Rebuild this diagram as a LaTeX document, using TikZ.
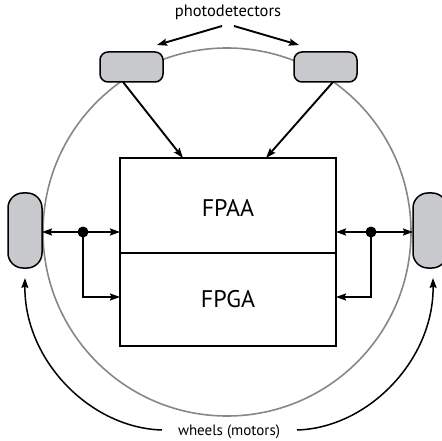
\documentclass[tikz,border=0pt]{standalone}
\usepackage{fontspec}
\setmainfont{PT Sans}
\usetikzlibrary{arrows.meta}
\definecolor{partfill}{RGB}{200,201,204}
\definecolor{rimgray}{RGB}{135,135,135}
\tikzset{
  sensor/.style={draw=black, line width=1.5pt, fill=partfill, rounded corners=8pt},
  wheel/.style={draw=black, line width=1.5pt, fill=partfill, rounded corners=15pt},
  chip/.style={draw=black, line width=1.3pt},
  link/.style={draw=black, line width=1.9pt},
  tip/.style={-{Stealth[length=10pt,width=7pt,inset=1.5pt]}},
  toplbl/.style={font=\fontsize{16.5}{18}\selectfont, inner sep=1pt},
  botlbl/.style={font=\fontsize{15}{17}\selectfont, inner sep=1pt},
  big/.style={font=\fontsize{24}{28}\selectfont}
}
\begin{document}
\begin{tikzpicture}[x=1pt,y=-1pt]
\useasboundingbox (0,0) rectangle (442,441);
% body
\draw[rimgray, line width=1.6pt] (227,232) circle (184);
% chip boxes
\draw[chip] (120,158) rectangle (336,253);
\draw[chip] (120,253) rectangle (336,346);
\node[big] (fpaa) at (228,208) {FPAA};
\node[big] (fpga) at (228,299) {FPGA};
\coordinate (fpaaTL) at (183,158);
\coordinate (fpaaTR) at (266,158);
% photodetectors
\draw[sensor] (100,52) rectangle (163,82);
\draw[sensor] (294,52) rectangle (357,82);
\node[toplbl] (pdlabel) at (228,12) {photodetectors};
\coordinate (pdLtip) at (157,45);
\coordinate (pdRtip) at (299,45);
\draw[link, tip] (222,26) -- (pdLtip);
\draw[link, tip] (234,26) -- (pdRtip);
\draw[link, tip] (123,82) -- (fpaaTL);
\draw[link, tip] (333,82) -- (fpaaTR);
% wheels
\draw[wheel] (8,193) rectangle (42,268);
\draw[wheel] (413,193) rectangle (447,268);
% left connections
\coordinate (dL) at (83,232);
\draw[link, tip] (dL) -- (42,232);
\draw[link, tip] (dL) -- (120,232);
\draw[link, tip] (dL) -- (83,297) -- (120,297);
\fill (dL) circle (5.5);
% right connections
\coordinate (dR) at (371,232);
\draw[link, tip] (dR) -- (413,232);
\draw[link, tip] (dR) -- (336,232);
\draw[link, tip] (dR) -- (371,297) -- (336,297);
\fill (dR) circle (5.5);
% wheels label
\node[botlbl] (wlabel) at (229,432) {wheels (motors)};
\draw[link, line width=1.5pt, tip] (162,430) .. controls (90,428) and (24,360) .. (25,278);
\draw[link, line width=1.5pt, tip] (297,430) .. controls (368,428) and (434,360) .. (433,278);
\end{tikzpicture}
\end{document}
